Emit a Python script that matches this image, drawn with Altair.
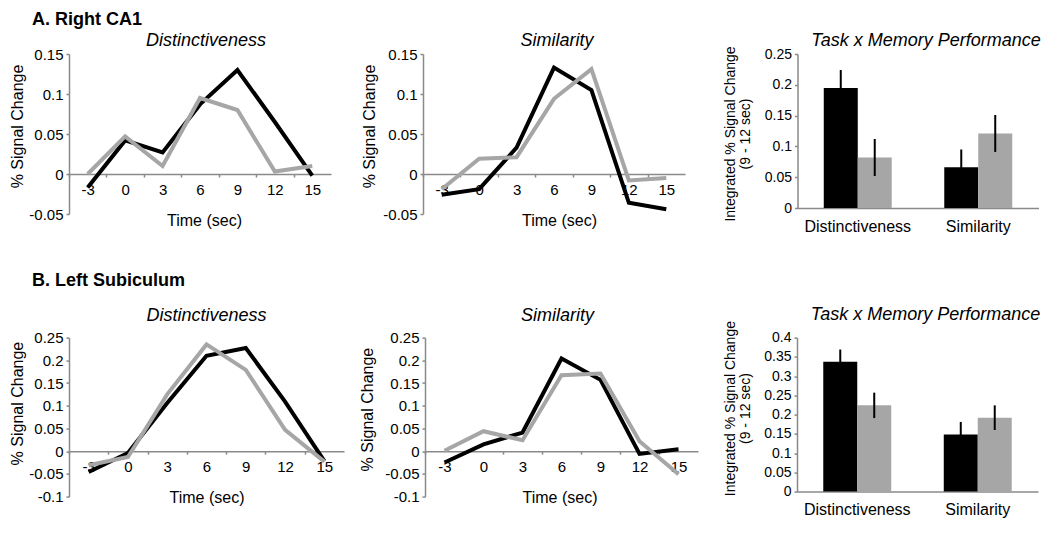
import altair as alt
import pandas as pd

FONT = "Liberation Sans"
HIT_COLOR = "#000000"
MISS_COLOR = "#a6a6a6"
AXIS_COLOR = "#8a8a8a"

# ---------------- data ----------------
times = [-3, 0, 3, 6, 9, 12, 15]
series = ["Subsequent Hit", "Subsequent Miss"]
tasks = ["Distinctiveness", "Similarity"]

ca1_yticks = [-0.05, 0, 0.05, 0.1, 0.15]
sub_yticks = [-0.1, -0.05, 0, 0.05, 0.1, 0.15, 0.2, 0.25]
ca1_bar_ticks = [0, 0.05, 0.1, 0.15, 0.2, 0.25]
sub_bar_ticks = [0, 0.05, 0.1, 0.15, 0.2, 0.25, 0.3, 0.35, 0.4]

# A. Right CA1
ca1_dist_hit = [-0.017, 0.042, 0.027, 0.087, 0.130, 0.065, -0.002]
ca1_dist_miss = [0.000, 0.047, 0.010, 0.095, 0.080, 0.003, 0.010]
ca1_sim_hit = [-0.026, -0.019, 0.033, 0.133, 0.105, -0.036, -0.044]
ca1_sim_miss = [-0.019, 0.019, 0.021, 0.094, 0.131, -0.008, -0.005]
ca1_bar_hit = [0.195, 0.066]
ca1_bar_miss = [0.082, 0.121]
ca1_err_hit = [0.029, 0.029]
ca1_err_miss = [0.030, 0.030]

# B. Left Subiculum
sub_dist_hit = [-0.046, -0.004, 0.106, 0.210, 0.227, 0.109, -0.022]
sub_dist_miss = [-0.031, -0.013, 0.125, 0.235, 0.179, 0.047, -0.023]
sub_sim_hit = [-0.025, 0.015, 0.041, 0.204, 0.157, -0.006, 0.004]
sub_sim_miss = [0.001, 0.044, 0.024, 0.167, 0.171, 0.022, -0.051]
sub_bar_hit = [0.337, 0.148]
sub_bar_miss = [0.224, 0.192]
sub_err_hit = [0.032, 0.033]
sub_err_miss = [0.033, 0.032]

# bars: explicit domain (carries the legend); lines: same colours, data-driven domain
fill_scale = alt.Scale(domain=series, range=[HIT_COLOR, MISS_COLOR])
stroke_scale = alt.Scale(range=[HIT_COLOR, MISS_COLOR])

legend = alt.Legend(
    orient="none", legendX=350, legendY=508, direction="horizontal", title=None,
    symbolType="M-1,-0.34H1V0.34H-1Z", symbolSize=1089, symbolStrokeWidth=0,
    labelFont=FONT, labelFontSize=17, labelColor="black", labelOffset=10,
    columnPadding=36, padding=0,
)


def panel_title(text, dx, offset):
    return alt.TitleParams(
        text, font=FONT, fontSize=18, fontStyle="italic", fontWeight="normal",
        color="black", anchor="middle", frame="group", dx=dx, offset=offset,
    )


def line_panel(hit, miss, title, yticks, width, height, title_dx, title_off,
               ytitle_pad, ytitle_shift, xtitle_dx, xtitle_y):
    df = pd.DataFrame({
        "time": times + times,
        "value": hit + miss,
        "series": [series[0]] * len(times) + [series[1]] * len(times),
    })
    lo, hi = yticks[0], yticks[-1]
    t_step = times[1] - times[0]
    step_px = width / len(times)
    zero_from_bottom = height * (0 - lo) / (hi - lo)
    boundaries = [t - t_step / 2 for t in times]
    x = alt.X(
        "time:Q",
        scale=alt.Scale(domain=[times[0] - t_step / 2, times[-1] + t_step / 2],
                        nice=False, zero=False),
        axis=alt.Axis(
            values=boundaries,
            labelExpr=f"'' + (datum.value + {t_step / 2})",
            labelOffset=step_px / 2, labelFlush=False, labelOverlap=False,
            offset=-zero_from_bottom, tickSize=3, labelPadding=5,
            labelFontSize=15, title="Time (sec)", titleFontSize=16,
            titleX=width / 2 + xtitle_dx, titleY=xtitle_y,
        ),
    )
    y = alt.Y(
        "value:Q",
        scale=alt.Scale(domain=[lo, hi], nice=False, zero=False),
        axis=alt.Axis(
            values=yticks, labelExpr="'' + datum.value", tickSize=3,
            labelPadding=3, labelFontSize=15, minExtent=40, maxExtent=40,
            title="% Signal Change", titleFontSize=16, titlePadding=ytitle_pad,
            titleY=height / 2 - ytitle_shift,
        ),
    )
    return (
        alt.Chart(df)
        .mark_line(strokeWidth=4)
        .encode(x=x, y=y,
                stroke=alt.Stroke("series:N", sort=series, scale=stroke_scale,
                                  legend=None))
        .properties(width=width, height=height,
                    title=panel_title(title, title_dx, title_off))
    )


def bar_panel(hit, miss, hit_err, miss_err, title, yticks, width, height,
              title_dx, title_off, ytitle_pad, ytitle_y):
    df = pd.DataFrame({
        "task": tasks + tasks,
        "series": [series[0]] * len(tasks) + [series[1]] * len(tasks),
        "value": hit + miss,
        "err": hit_err + miss_err,
    })
    yscale = alt.Scale(domain=[yticks[0], yticks[-1]], nice=False, zero=False)
    yaxis = alt.Axis(
        values=yticks, labelExpr="'' + datum.value", tickSize=3,
        labelPadding=3, labelFontSize=14, minExtent=34, maxExtent=34,
        title=["Integrated % Signal Change", "(9 - 12 sec)"],
        titleFontSize=14, titleLineHeight=15, titlePadding=ytitle_pad,
        titleY=ytitle_y,
    )
    base = alt.Chart(df).encode(
        x=alt.X(
            "task:N", sort=tasks,
            scale=alt.Scale(paddingInner=0.436, paddingOuter=0.218),
            axis=alt.Axis(title=None, labelAngle=0, labelFontSize=16, ticks=False,
                          tickSize=0, labelPadding=10),
        ),
        xOffset=alt.XOffset("series:N", sort=series),
    )
    bars = base.mark_bar().encode(
        y=alt.Y("value:Q", scale=yscale, axis=yaxis),
        fill=alt.Fill("series:N", sort=series, scale=fill_scale, legend=legend),
    )
    errs = (
        base.transform_calculate(lo="datum.value - datum.err",
                                 hi="datum.value + datum.err")
        .mark_rule(color="black", strokeWidth=2)
        .encode(y=alt.Y("lo:Q", scale=yscale, axis=yaxis), y2="hi:Q")
    )
    return alt.layer(bars, errs).properties(
        width=width, height=height, title=panel_title(title, title_dx, title_off)
    )


a1 = line_panel(ca1_dist_hit, ca1_dist_miss, "Distinctiveness", ca1_yticks, 262, 160,
                6, -3, 4, 8, 4, 38)
a2 = line_panel(ca1_sim_hit, ca1_sim_miss, "Similarity", ca1_yticks, 262, 160,
                3, -3, 5.5, 8, 5, 38)
a3 = bar_panel(ca1_bar_hit, ca1_bar_miss, ca1_err_hit, ca1_err_miss,
               "Task x Memory Performance", ca1_bar_ticks, 241, 154, 8, -4, 11, 79.5)

b1 = line_panel(sub_dist_hit, sub_dist_miss, "Distinctiveness", sub_yticks, 275, 159,
                0, 6, 4, 14, 0, 38)
b2 = line_panel(sub_sim_hit, sub_sim_miss, "Similarity", sub_yticks, 273, 159,
                -4, 6, 10, 8, -2, 38)
b3 = bar_panel(sub_bar_hit, sub_bar_miss, sub_err_hit, sub_err_miss,
               "Task x Memory Performance", sub_bar_ticks, 241, 154, 8, -3.5, 11, 70.5)


def row_title(text, offset):
    return alt.TitleParams(
        text, font=FONT, fontSize=18, fontWeight="bold", color="black",
        anchor="start", frame="group", dx=-37, offset=offset,
    )


row_a = alt.hconcat(
    alt.hconcat(a1, a2, spacing=30), a3,
    spacing=38.5, title=row_title("A. Right CA1", 3),
)
row_b = alt.hconcat(
    alt.hconcat(b1, b2, spacing=15), b3,
    spacing=25, title=row_title("B. Left Subiculum", 16),
)

chart = (
    alt.vconcat(row_a, row_b, spacing=37.6,
                padding={"left": 0, "top": 2, "right": 0, "bottom": 0})
    .configure_view(stroke=None)
    .configure_axis(
        grid=False, domainColor=AXIS_COLOR, tickColor=AXIS_COLOR, domainWidth=1.5,
        tickWidth=1.5, labelFont=FONT, titleFont=FONT, labelColor="black",
        titleColor="black", titleFontWeight="normal",
    )
)

chart.save("out.html", embed_options={"renderer": "svg", "actions": False})
